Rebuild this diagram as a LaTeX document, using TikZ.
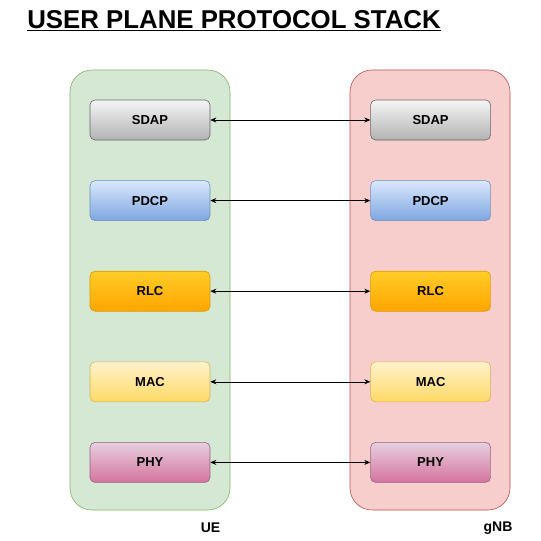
\documentclass[tikz,border=0pt]{standalone}
\usepackage{fontspec}
\setmainfont{Liberation Sans}
\usetikzlibrary{positioning, arrows.meta}

\definecolor{ueFill}{HTML}{D5E8D4}
\definecolor{ueLine}{HTML}{82B366}
\definecolor{gnbFill}{HTML}{F8CECC}
\definecolor{gnbLine}{HTML}{B85450}

\begin{document}
\begin{tikzpicture}[x=1pt, y=-1pt, >={Stealth[length=6pt, width=5pt]},
    node distance=40pt, align=center]

    \tikzset{
      stack/.style = {rounded corners=22pt, line width=0.6pt},
      layer/.style = {shape=rectangle, rounded corners=5pt, draw,
        line width=0.6pt, minimum width=120pt, minimum height=40pt,
        shading=axis, font=\fontsize{13}{15}\selectfont\bfseries},
      sdap/.style = {layer, top color=white!96!black, bottom color=black!30, draw=black!60},
      pdcp/.style = {layer, top color={rgb,255:red,218;green,232;blue,252}, bottom color={rgb,255:red,126;green,166;blue,224}, draw={rgb,255:red,108;green,142;blue,191}},
      rlc/.style  = {layer, top color={rgb,255:red,255;green,205;blue,40}, bottom color={rgb,255:red,255;green,165;blue,0}, draw={rgb,255:red,215;green,155;blue,0}},
      mac/.style  = {layer, top color={rgb,255:red,255;green,242;blue,204}, bottom color={rgb,255:red,255;green,217;blue,102}, draw={rgb,255:red,214;green,182;blue,86}},
      phy/.style  = {layer, top color={rgb,255:red,230;green,208;blue,222}, bottom color={rgb,255:red,213;green,115;blue,157}, draw={rgb,255:red,150;green,97;blue,133}},
      caption/.style = {font=\fontsize{14}{16}\selectfont\bfseries},
    }

    \useasboundingbox[fill=white] (0,0) rectangle (541,541);

    % the two containers
    \draw[stack, fill=ueFill, draw=ueLine] (70,70) rectangle (230,510);
    \draw[stack, fill=gnbFill, draw=gnbLine] (350,70) rectangle (510,510);

    \node[font=\fontsize{25.8}{30}\selectfont\bfseries] (title) at (234,21)
      {\underline{USER PLANE PROTOCOL STACK}};

    % UE side
    \node[sdap] (sdapUE) at (150,120) {SDAP};
    \node[pdcp, below=40pt of sdapUE] (pdcpUE) {PDCP};
    \node[rlc,  below=50pt of pdcpUE] (rlcUE) {RLC};
    \node[mac,  below=50pt of rlcUE] (macUE) {MAC};
    \node[phy,  below=40pt of macUE] (phyUE) {PHY};

    % gNB side
    \node[sdap, right=160pt of sdapUE] (sdapGNB) {SDAP};
    \node[pdcp, right=160pt of pdcpUE] (pdcpGNB) {PDCP};
    \node[rlc,  right=160pt of rlcUE] (rlcGNB) {RLC};
    \node[mac,  right=160pt of macUE] (macGNB) {MAC};
    \node[phy,  right=160pt of phyUE] (phyGNB) {PHY};

    \node[caption] (ue) at (210.5,528) {UE};
    \node[caption] (gnb) at (498,528) {gNB};

    \path[<->, line width=0.6pt]
      (sdapUE) edge (sdapGNB)
      (pdcpUE) edge (pdcpGNB)
      (rlcUE) edge (rlcGNB)
      (macUE) edge (macGNB)
      (phyUE) edge (phyGNB);

  \end{tikzpicture}
\end{document}
